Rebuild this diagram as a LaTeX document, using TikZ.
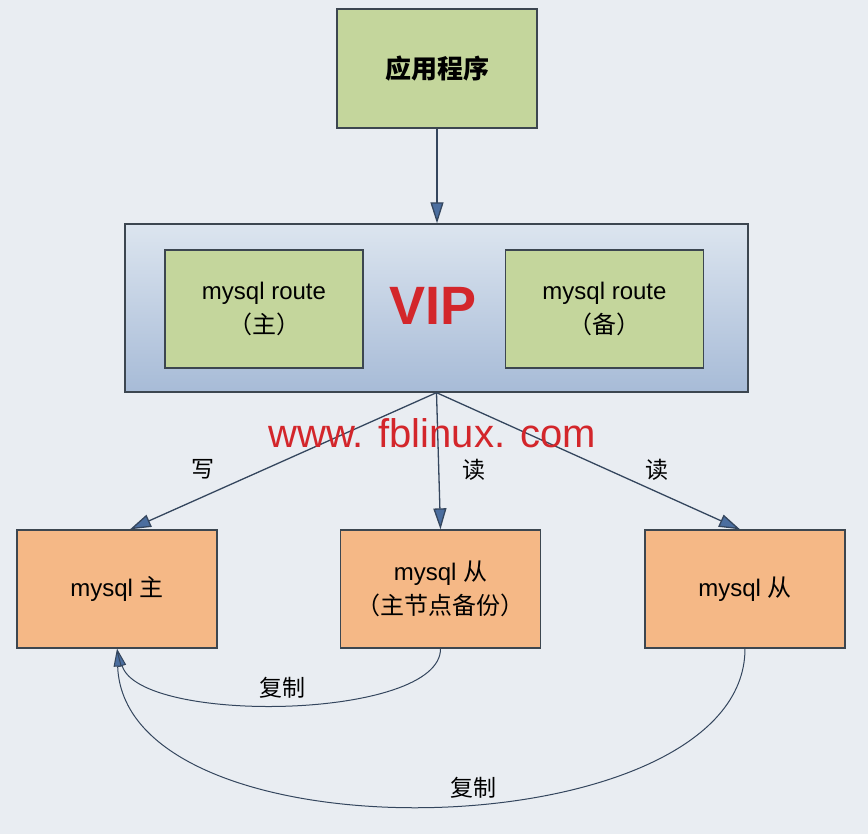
\documentclass[tikz,border=0pt]{standalone}
\usepackage{fontspec}
\setmainfont{Liberation Sans}
\newfontfamily\cjk{Noto Sans CJK SC}
\usepackage{xcolor}
\usetikzlibrary{arrows.meta,positioning,calc}
\definecolor{fback}{HTML}{E9EDF2}
\definecolor{fgreen}{HTML}{C4D69C}
\definecolor{forange}{HTML}{F5B886}
\definecolor{fvtop}{HTML}{DCE5EF}
\definecolor{fvbot}{HTML}{A7BBD7}
\definecolor{fedge}{HTML}{3C4650}
\definecolor{fline}{HTML}{34465E}
\definecolor{ftip}{HTML}{4B6E9F}
\definecolor{fred}{HTML}{D3262B}

\begin{document}
\begin{tikzpicture}[x=1pt, y=-1pt, font=\fontsize{24}{34}\selectfont,
  box/.style={draw=fedge, line width=1.3pt, inner sep=0pt, align=center},
  appbox/.style={box, fill=fgreen, minimum width=200pt, minimum height=119pt},
  routebox/.style={box, fill=fgreen, minimum width=198pt, minimum height=118pt},
  dbbox/.style={box, fill=forange, minimum width=200pt, minimum height=118pt},
  flow/.style={draw=fline, line width=1.3pt, -{Triangle[length=21pt,width=13pt,fill=ftip]}},
  sync/.style={draw=fline, line width=1pt, -{Triangle[length=18pt,width=8pt,fill=ftip]}},
  lbl/.style={inner sep=0pt, font=\cjk\fontsize{23}{26}\selectfont}]
\useasboundingbox (0,0) rectangle (868,834);
\fill[fback] (0,0) rectangle (868,834);
% ---- application ----
\node[appbox, font=\cjk\bfseries\fontsize{26}{30}\selectfont] (app) at (437,68.5) {应用程序};
% ---- VIP with the two routers ----
\node[box, minimum width=623pt, minimum height=168pt, top color=fvtop, bottom color=fvbot] (vip) at (436.5,308) {};
\node[routebox] (rmain) at (264,309) {mysql route\\{\cjk （主）}};
\node[routebox] (rback) at (604.5,309) {mysql route\\{\cjk （备）}};
\node[inner sep=0pt, text=fred, font=\bfseries\fontsize{54}{54}\selectfont] (viptxt) at (433,306) {VIP};
% ---- databases ----
\node[dbbox] (ms) at (117,589) {mysql\ {\cjk 主}};
\node[dbbox] (s1) at (440.5,589) {mysql\ {\cjk 从}\\{\cjk （主节点备份）}};
\node[dbbox] (s2) at (745,589) {mysql\ {\cjk 从}};
% ---- read / write ----
\draw[flow] (app.south) -- (app.south |- vip.north);
\draw[flow] (vip.south) -- ([xshift=13pt]ms.north);
\draw[flow] (vip.south) -- (s1.north);
\draw[flow] (vip.south) -- ([xshift=-5pt]s2.north);
\node[lbl] (w) at (203,469) {写};
\node[lbl] (r1) at (474,470) {读};
\node[lbl] (r2) at (657,470) {读};
% ---- replication back to the master ----
\draw[sync] (s1.south) .. controls (441,720) and (140,725) .. (ms.south);
\draw[sync] (s2.south) .. controls (745,850) and (125,865) .. (ms.south);
\node[lbl] (c1) at (282,688) {复制};
\node[lbl] (c2) at (473,788) {复制};
% ---- watermark ----
\node[inner sep=0pt, text=fred, font=\fontsize{40}{40}\selectfont] (mark) at (432,433) {www. fblinux. com};
\end{tikzpicture}
\end{document}
